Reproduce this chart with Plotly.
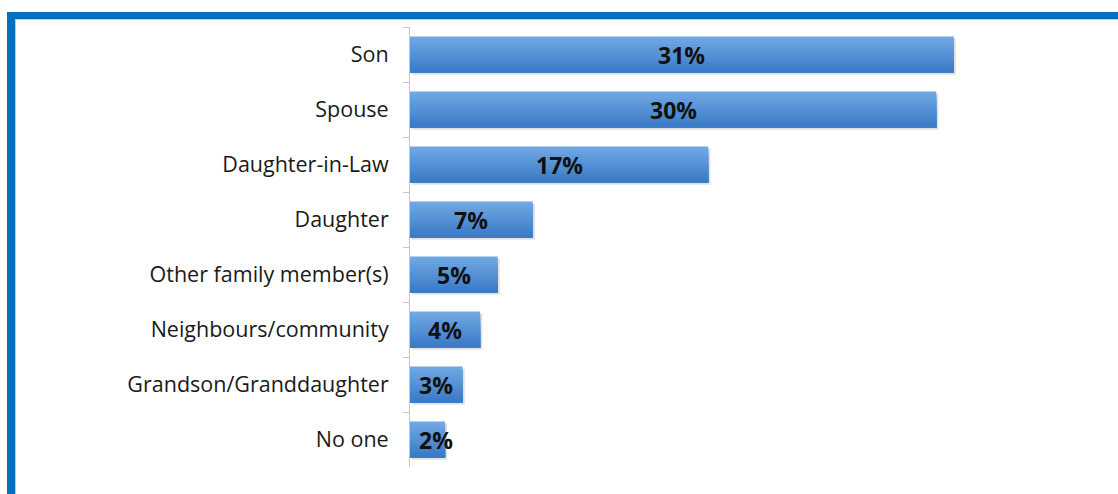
import plotly.graph_objects as go

# Who provides care: share of respondents by relationship
categories = [
    "Son",
    "Spouse",
    "Daughter-in-Law",
    "Daughter",
    "Other family member(s)",
    "Neighbours/community",
    "Grandson/Granddaughter",
    "No one",
]
shares = [31, 30, 17, 7, 5, 4, 3, 2]
share_labels = ["31%", "30%", "17%", "7%", "5%", "4%", "3%", "2%"]

W, H = 1118, 494
L, R, T, B = 410, 94, 27, 27
PW, PH = W - L - R, H - T - B


def px_x(px):
    return (px - L) / PW


def px_y(py):
    return (H - B - py) / PH


fig = go.Figure()

bar_w = 0.655
top = -bar_w / 2

# soft drop shadow behind each bar
fig.add_trace(go.Bar(
    y=categories, x=shares, base=0.12, orientation="h",
    width=bar_w, offset=top + 0.04,
    marker=dict(color="rgba(70,70,70,0.16)", line=dict(width=0)),
    hoverinfo="skip", showlegend=False,
))

# vertical gradient: each layer starts lower and is drawn over the previous,
# running from light at the top to darker at the bottom
c_top = (112, 168, 227)
c_bot = (58, 122, 199)
n = 14
sw = bar_w / n
for i in range(n):
    f = i / (n - 1)
    col = tuple(round(a + (b - a) * f) for a, b in zip(c_top, c_bot))
    fig.add_trace(go.Bar(
        y=categories, x=shares, orientation="h",
        width=bar_w - i * sw, offset=top + i * sw,
        marker=dict(color="rgb(%d,%d,%d)" % col, line=dict(width=0)),
        hoverinfo="skip", showlegend=False,
    ))

# value labels centred in each bar; short bars keep the label clear of the axis
min_centre = 1.5
for cat, v, lab in zip(categories, shares, share_labels):
    fig.add_annotation(
        x=max(v / 2, min_centre), y=cat, text=lab, showarrow=False,
        xanchor="center", yanchor="middle", yshift=0,
        font=dict(family="Open Sans", size=23, color="#111111", weight="bold"),
    )

fig.update_layout(
    width=W, height=H,
    margin=dict(l=L, r=R, t=T, b=B, pad=0),
    barmode="overlay",
    paper_bgcolor="white", plot_bgcolor="white",
    showlegend=False,
    xaxis=dict(range=[0, 35], visible=False, fixedrange=True),
    yaxis=dict(
        type="category", autorange="reversed",
        showline=True, linecolor="#c6c6c6", linewidth=1,
        ticks="outside", tickson="boundaries", ticklen=6, tickcolor="#c6c6c6",
        ticklabelstandoff=16,
        tickfont=dict(family="Open Sans", size=21.5, color="#1a1a1a"),
        showgrid=False, zeroline=False,
    ),
    shapes=[
        # blue frame across the top and down the left side
        dict(type="rect", xref="paper", yref="paper", layer="above",
             x0=px_x(7), x1=px_x(1118), y0=px_y(19), y1=px_y(12),
             fillcolor="#0070c0", line=dict(width=0)),
        dict(type="rect", xref="paper", yref="paper", layer="above",
             x0=px_x(15), x1=px_x(1118), y0=px_y(20), y1=px_y(19),
             fillcolor="#a8d4f2", line=dict(width=0)),
        dict(type="rect", xref="paper", yref="paper", layer="above",
             x0=px_x(7), x1=px_x(15), y0=px_y(494), y1=px_y(12),
             fillcolor="#0070c0", line=dict(width=0)),
        dict(type="rect", xref="paper", yref="paper", layer="above",
             x0=px_x(15), x1=px_x(16), y0=px_y(494), y1=px_y(19),
             fillcolor="#a8d4f2", line=dict(width=0)),
    ],
)

fig.write_html("out.html")
